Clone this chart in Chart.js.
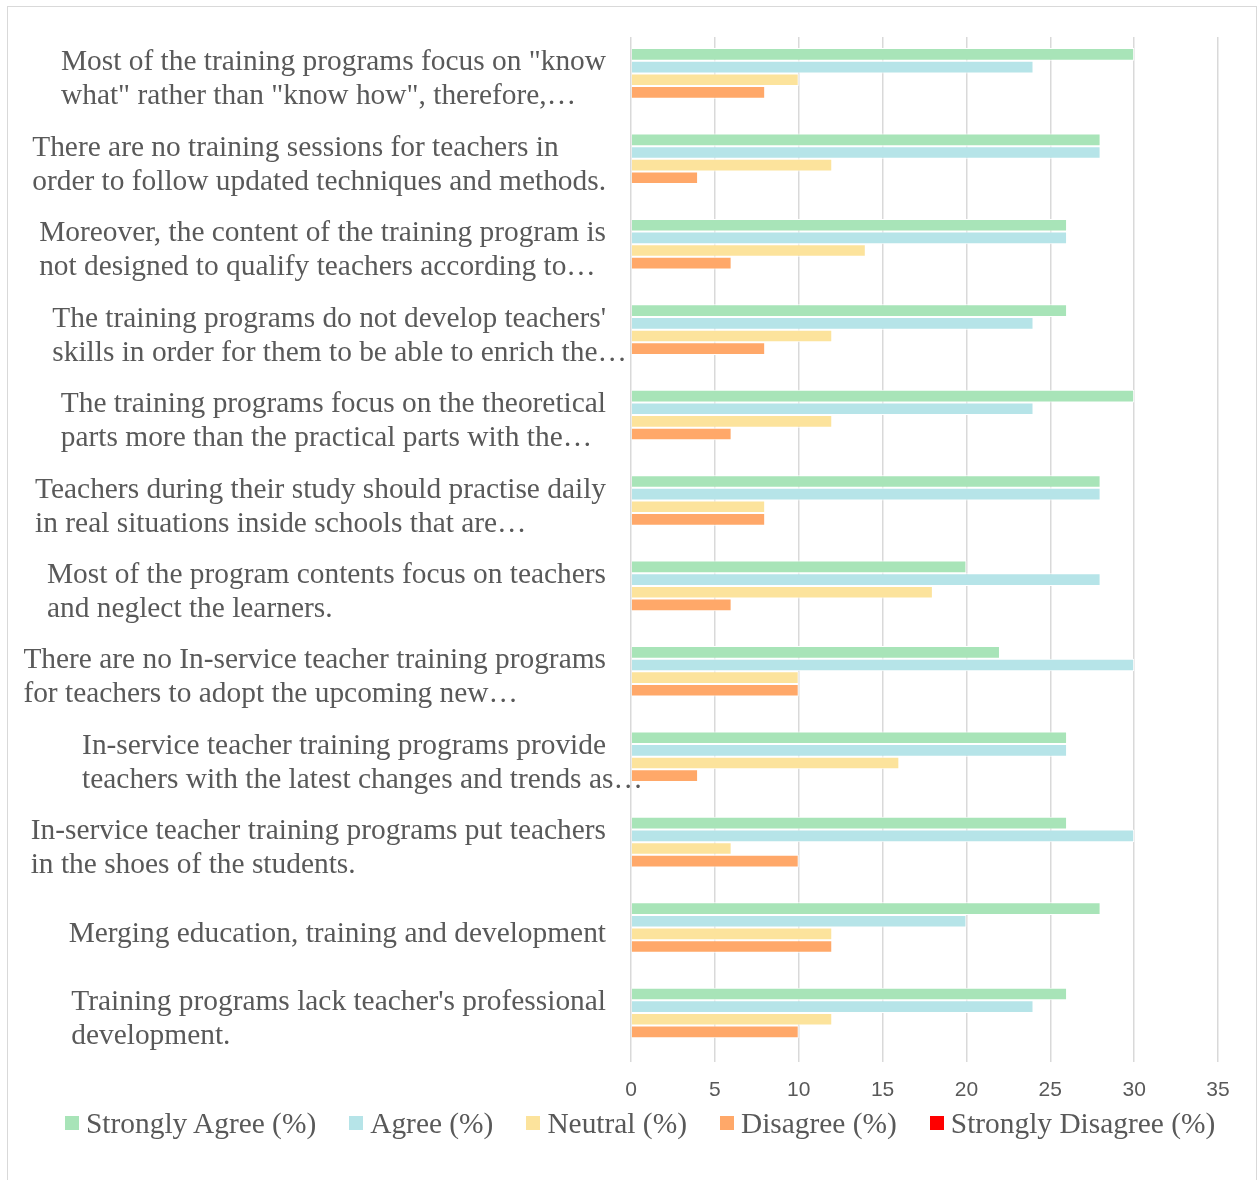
<!DOCTYPE html>
<html>
<head>
<meta charset="utf-8">
<script src="https://cdn.jsdelivr.net/npm/chart.js@4.4.1/dist/chart.umd.min.js"></script>
<style>
  html, body { margin: 0; padding: 0; background: #fff; overflow: hidden; }
  #frame {
    position: absolute; left: 7px; top: 6px;
    width: 1250px; height: 1200px;
    border: 1px solid #d9d9d9; box-sizing: border-box;
  }
  #wrap { position: absolute; left: 0; top: 0; width: 1248px; height: 1100px; }
  #legend {
    position: absolute; left: 65px; top: 1105px; height: 36px;
    display: flex; align-items: center; gap: 33px;
    font-family: "Liberation Serif", "Times New Roman", serif;
    font-size: 29.4px; color: #595959; white-space: nowrap;
  }
  #legend .item { display: flex; align-items: center; }
  #legend .box { width: 14px; height: 14px; margin-right: 7px; }
</style>
</head>
<body>
<div id="frame"><div id="wrap"><canvas id="chart"></canvas></div></div>
<div id="legend"></div>
<script>
// category labels (already wrapped, as in the source chart)
const categories = [
  ['Most of the training programs focus on "know', 'what" rather than "know how", therefore,…'],
  ['There are no training sessions for teachers in', 'order to follow updated techniques and methods.'],
  ['Moreover, the content of the training program is', 'not designed to qualify teachers according to…'],
  ["The training programs do not develop teachers'", 'skills in order for them to be able to enrich the…'],
  ['The training programs focus on the theoretical', 'parts more than the practical parts with the…'],
  ['Teachers during their study should practise daily', 'in real situations inside schools that are…'],
  ['Most of the program contents focus on teachers', 'and neglect the learners.'],
  ['There are no In-service teacher training programs', 'for teachers to adopt the upcoming new…'],
  ['In-service teacher training programs provide', 'teachers with the latest changes and trends as…'],
  ['In-service teacher training programs put teachers', 'in the shoes of the students.'],
  ['Merging education, training and development'],
  ["Training programs lack teacher's professional", 'development.']
];

const stronglyAgree    = [30, 28, 26, 26, 30, 28, 20, 22, 26, 26, 28, 26];
const agree            = [24, 28, 26, 24, 24, 28, 28, 30, 26, 30, 20, 24];
const neutral          = [10, 12, 14, 12, 12,  8, 18, 10, 16,  6, 12, 12];
const disagree         = [ 8,  4,  6,  8,  6,  8,  6, 10,  4, 10, 12, 10];
const stronglyDisagree = [ 0,  0,  0,  0,  0,  0,  0,  0,  0,  0,  0,  0];

const xTicksMax = 35;
const xTicksStep = 5;

const SERIF = '"Liberation Serif", "Times New Roman", serif';
const TEXT = '#595959';
const LABEL_SIZE = 29.4;
const LABEL_LINE = 34;

// y labels: each block is left-aligned inside, block right-aligned to the axis
const yLabelPlugin = {
  id: 'yLabels',
  afterDraw(chart) {
    const ctx = chart.ctx;
    const y = chart.scales.y;
    const right = chart.chartArea.left - 25;
    ctx.save();
    ctx.font = `${LABEL_SIZE}px ${SERIF}`;
    ctx.fillStyle = TEXT;
    ctx.textAlign = 'left';
    ctx.textBaseline = 'middle';
    categories.forEach((lines, i) => {
      const cy = y.getPixelForTick(i);
      const widths = lines.filter(l => !l.endsWith('…')).map(l => ctx.measureText(l).width);
      const blockW = widths.length ? Math.max(...widths) : ctx.measureText(lines[0]).width;
      const left = right - blockW;
      const top = cy - (lines.length - 1) * LABEL_LINE / 2;
      lines.forEach((l, k) => ctx.fillText(l, left, top + k * LABEL_LINE));
    });
    ctx.restore();
  }
};

const mk = (label, data, color) => ({
  label, data,
  backgroundColor: color,
  borderColor: '#ffffff',
  borderWidth: 1,
  categoryPercentage: 0.74,
  barPercentage: 1.0
});

const chart = new Chart(document.getElementById('chart'), {
  type: 'bar',
  data: {
    labels: categories.map(c => c.join(' ')),
    datasets: [
      mk('Strongly Agree (%)', stronglyAgree, '#a8e4b8'),
      mk('Agree (%)', agree, '#b6e4e8'),
      mk('Neutral (%)', neutral, '#fce39c'),
      mk('Disagree (%)', disagree, '#ffa869'),
      mk('Strongly Disagree (%)', stronglyDisagree, '#ff0000')
    ]
  },
  options: {
    indexAxis: 'y',
    responsive: true,
    maintainAspectRatio: false,
    animation: false,
    layout: { padding: { top: 30, right: 38, left: 0, bottom: 0 } },
    plugins: {
      legend: { display: false },
      tooltip: { enabled: false }
    },
    scales: {
      x: {
        min: 0,
        max: xTicksMax,
        ticks: {
          stepSize: xTicksStep,
          color: TEXT,
          padding: 16,
          font: { family: '"Liberation Sans", Arial, sans-serif', size: 21 }
        },
        grid: { color: '#d9d9d9', lineWidth: 1.5, drawTicks: false },
        border: { display: false },
        afterFit(s) { s.height = 45; }
      },
      y: {
        ticks: { display: false },
        grid: { display: false },
        border: { display: false },
        afterFit(s) { s.width = 623; }
      }
    }
  },
  plugins: [yLabelPlugin]
});

// html legend built from the chart's datasets
const legendEl = document.getElementById('legend');
chart.data.datasets.forEach(ds => {
  const item = document.createElement('div');
  item.className = 'item';
  const box = document.createElement('span');
  box.className = 'box';
  box.style.background = ds.backgroundColor;
  const txt = document.createElement('span');
  txt.textContent = ds.label;
  item.appendChild(box);
  item.appendChild(txt);
  legendEl.appendChild(item);
});
</script>
</body>
</html>
